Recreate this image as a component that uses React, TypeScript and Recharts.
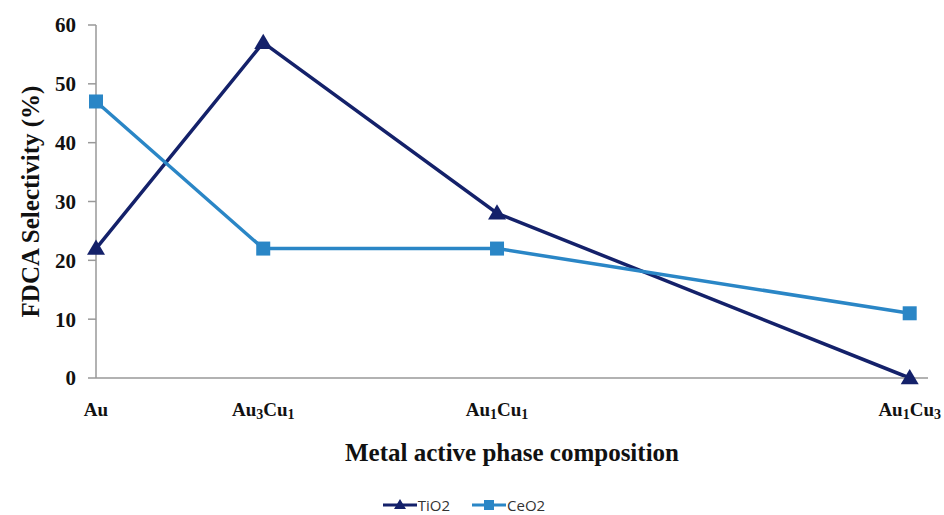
import React from "react";
import {
  LineChart,
  Line,
  XAxis,
  YAxis,
  Legend,
  Label,
} from "recharts";

// composition labels and their position along the axis (as drawn in the original)
const categories = ["Au", "Au3Cu1", "Au1Cu1", "Au1Cu3"];
const xPositions = [0, 20.1, 48.2, 97.8];
const tio2 = [22, 57, 28, 0];
const ceo2 = [47, 22, 22, 11];
const yTicks = [0, 10, 20, 30, 40, 50, 60];

const data = categories.map((c, i) => ({
  name: c,
  x: xPositions[i],
  TiO2: tio2[i],
  CeO2: ceo2[i],
}));

const NAVY = "#14216a";
const BLUE = "#2a86c6";
const SERIF = "'Liberation Serif', 'Times New Roman', serif";

const splitFormula = (s: string) => s.match(/[A-Za-z]+|\d+/g) || [];

const XTick = ({ x, y, payload }: any) => {
  const idx = xPositions.indexOf(payload.value);
  const label = idx >= 0 ? categories[idx] : "";
  const parts = splitFormula(label);
  return (
    <text
      x={x}
      y={y + 30}
      textAnchor="middle"
      fontFamily={SERIF}
      fontWeight="bold"
      fontSize={19}
      fill="#111"
    >
      {parts.map((p, i) =>
        /\d/.test(p) ? (
          <tspan key={i} fontSize={14} dy={3}>
            {p}
          </tspan>
        ) : (
          <tspan key={i} dy={i > 0 ? -3 : 0}>
            {p}
          </tspan>
        )
      )}
    </text>
  );
};

const Triangle = ({ cx, cy }: any) => {
  if (cx == null || cy == null) return null;
  const s = 9;
  return (
    <polygon
      points={`${cx},${cy - s} ${cx + s},${cy + s * 0.7} ${cx - s},${cy + s * 0.7}`}
      fill={NAVY}
    />
  );
};

const Square = ({ cx, cy }: any) => {
  if (cx == null || cy == null) return null;
  return <rect x={cx - 7} y={cy - 7} width={14} height={14} fill={BLUE} />;
};

const LegendContent = () => {
  const items = [
    { name: "TiO2", color: NAVY, shape: "tri" },
    { name: "CeO2", color: BLUE, shape: "sq" },
  ];
  return (
    <div style={{ display: "flex", justifyContent: "center", gap: 22 }}>
      {items.map((it) => (
        <div key={it.name} style={{ display: "flex", alignItems: "center" }}>
          <svg width={34} height={14}>
            <line x1={0} y1={7} x2={34} y2={7} stroke={it.color} strokeWidth={3} />
            {it.shape === "tri" ? (
              <polygon points="17,1 23,11 11,11" fill={it.color} />
            ) : (
              <rect x={12} y={2} width={10} height={10} fill={it.color} />
            )}
          </svg>
          <span
            style={{
              fontFamily: "'Open Sans', 'Liberation Sans', sans-serif",
              fontSize: 15,
              lineHeight: "18px",
              color: "#333",
              marginLeft: 1,
            }}
          >
            {it.name}
          </span>
        </div>
      ))}
    </div>
  );
};

const App = () => {
  return (
    <div style={{ position: "absolute", left: 0, top: 0, background: "#fff" }}>
      <LineChart
        width={944}
        height={515}
        data={data}
        margin={{ top: 25, right: 16, left: 0, bottom: 0 }}
      >
        <XAxis
          type="number"
          dataKey="x"
          domain={[0, 100]}
          ticks={xPositions}
          tick={<XTick />}
          tickLine={false}
          axisLine={{ stroke: "#999", strokeWidth: 1.5 }}
          height={115}
          interval={0}
        >
          <Label
            value="Metal active phase composition"
            position="insideBottom"
            offset={32}
            style={{
              fontFamily: SERIF,
              fontWeight: "bold",
              fontSize: 25,
              fill: "#111",
            }}
          />
        </XAxis>
        <YAxis
          type="number"
          domain={[0, 60]}
          ticks={yTicks}
          width={96}
          tickSize={8}
          tickMargin={12}
          axisLine={{ stroke: "#999", strokeWidth: 1.5 }}
          tickLine={{ stroke: "#999", strokeWidth: 1.5 }}
          tick={{
            fontFamily: SERIF,
            fontWeight: "bold",
            fontSize: 21,
            fill: "#111",
          }}
        >
          <Label
            value="FDCA Selectivity (%)"
            angle={-90}
            position="insideLeft"
            offset={30}
            style={{
              fontFamily: SERIF,
              fontWeight: "bold",
              fontSize: 25,
              fill: "#111",
              textAnchor: "middle",
            }}
          />
        </YAxis>
        <Legend
          verticalAlign="bottom"
          height={22}
          wrapperStyle={{ top: 496, bottom: "auto" }}
          content={<LegendContent />}
        />
        <Line
          dataKey="TiO2"
          stroke={NAVY}
          strokeWidth={3.5}
          dot={<Triangle />}
          activeDot={false}
          isAnimationActive={false}
        />
        <Line
          dataKey="CeO2"
          stroke={BLUE}
          strokeWidth={3.5}
          dot={<Square />}
          activeDot={false}
          isAnimationActive={false}
        />
      </LineChart>
    </div>
  );
};

export default App;
